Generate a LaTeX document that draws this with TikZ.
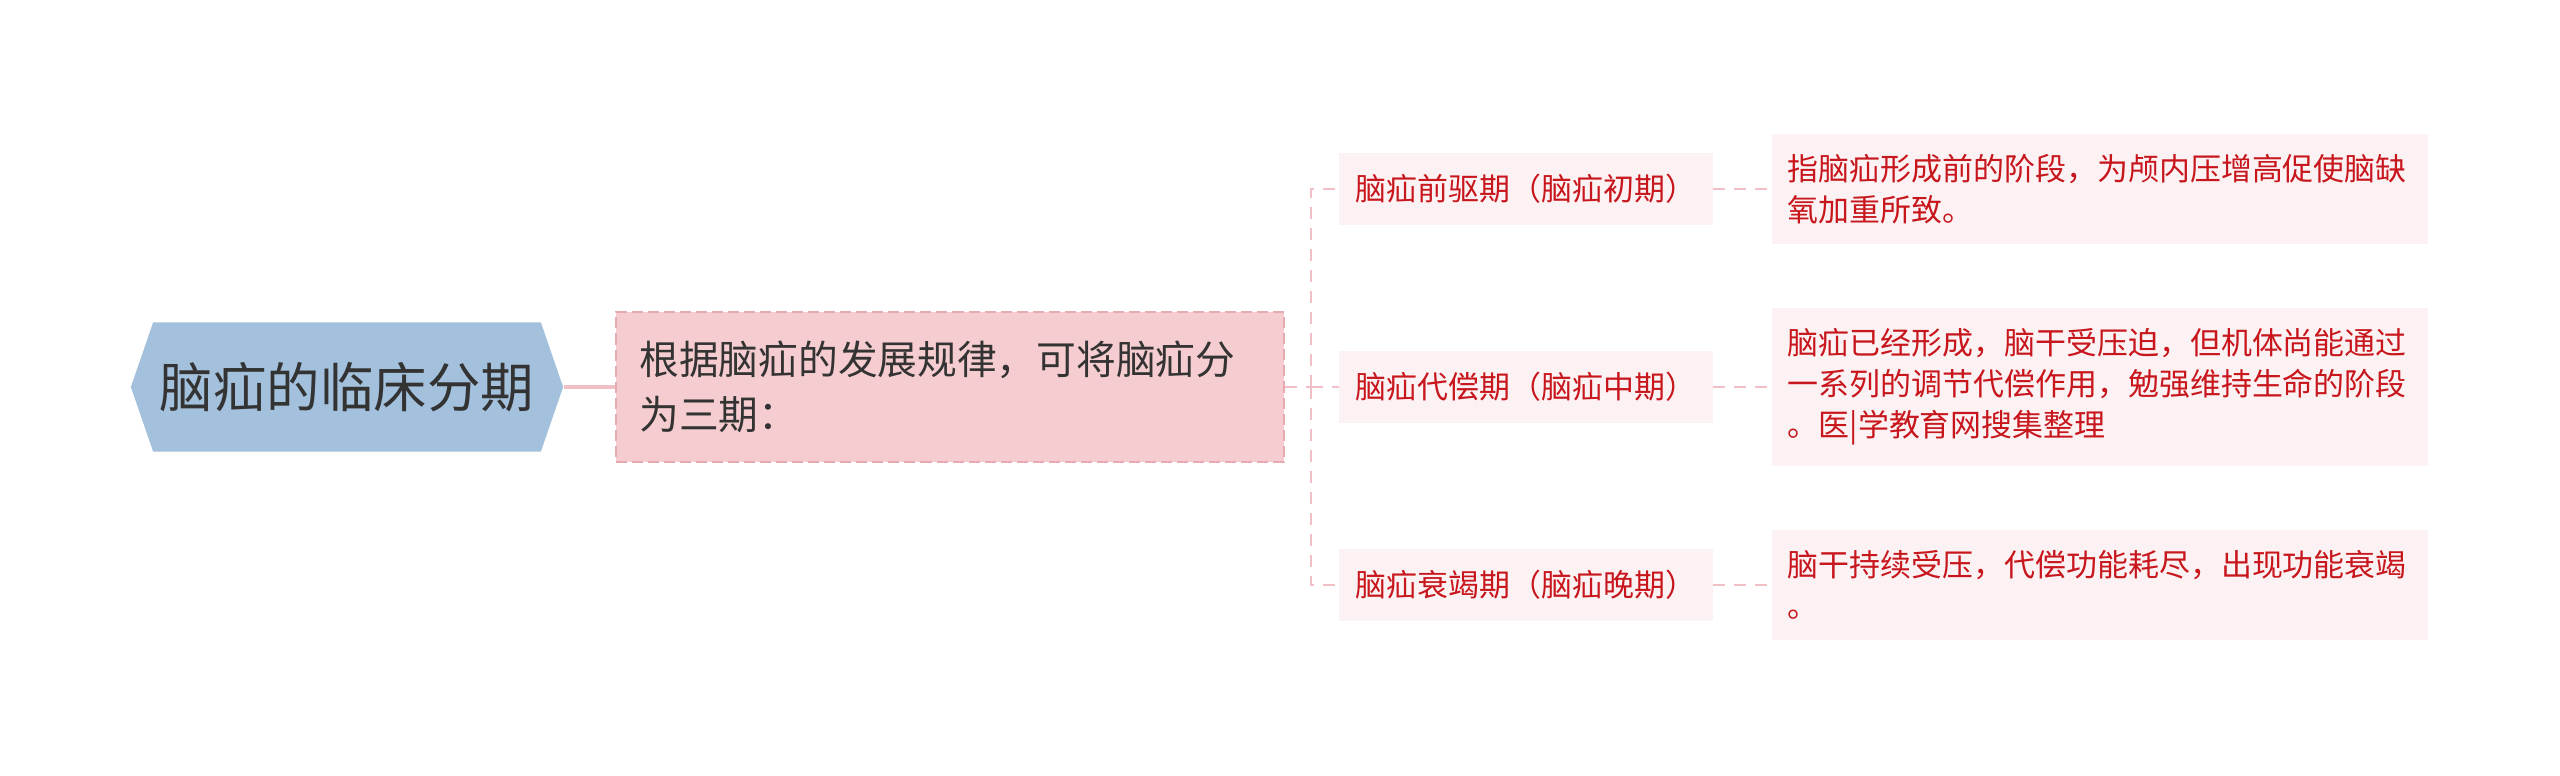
\documentclass[tikz,border=0pt]{standalone}
\usepackage{fontspec}
\setmainfont{Noto Sans CJK SC}
\usepackage{tikz}
\usetikzlibrary{shapes.symbols,positioning}
\definecolor{rootblue}{RGB}{163,193,220}
\definecolor{darktext}{RGB}{51,51,51}
\definecolor{introfill}{RGB}{245,204,207}
\definecolor{introedge}{RGB}{232,170,177}
\definecolor{leaffill}{RGB}{252,242,243}
\definecolor{leafred}{RGB}{200,22,29}
\definecolor{linkpink}{RGB}{240,192,198}
\tikzset{
  rootnode/.style={signal,signal to=west and east,signal pointer angle=142,
    fill=rootblue,draw=none,minimum width=4.32cm,minimum height=1.29cm,
    inner sep=0pt,font=\fontsize{15.2pt}{18pt}\selectfont,text=darktext},
  intronode/.style={fill=introfill,draw=introedge,line width=0.02cm,
    dash pattern=on 0.11cm off 0.05cm,text width=6.21cm,inner xsep=0.23cm,
    minimum height=1.49cm,align=left,
    font=\fontsize{11.3pt}{15.6pt}\selectfont,text=darktext},
  stagenode/.style={fill=leaffill,minimum width=3.73cm,minimum height=0.72cm,
    inner sep=0pt,font=\fontsize{8.8pt}{11pt}\selectfont,text=leafred},
  descnode/.style={fill=leaffill,text width=6.24cm,inner xsep=0.16cm,
    inner ysep=0.2cm,align=left,
    font=\fontsize{8.8pt}{11.7pt}\selectfont,text=leafred},
  solidlink/.style={draw=linkpink,line width=0.04cm},
  dashlink/.style={draw=linkpink,line width=0.022cm,
    dash pattern=on 0.12cm off 0.09cm},
}
\begin{document}
\begin{tikzpicture}[x=0.01cm,y=-0.01cm]
\useasboundingbox (0,0) rectangle (2560,775);
% root and summary
\node[rootnode] (root) at (347,387) {脑疝的临床分期};
\node[intronode] (intro) at (950,387)
  {根据脑疝的发展规律，可将脑疝分\\为三期：};
\draw[solidlink] (root.east)--(intro.west);
% three stages
\node[stagenode] (early) at (1526,189) {脑疝前驱期（脑疝初期）};
\node[stagenode] (mid)   at (1526,387) {脑疝代偿期（脑疝中期）};
\node[stagenode] (late)  at (1526,585) {脑疝衰竭期（脑疝晚期）};
\coordinate (fork) at (1311,387);
\draw[dashlink] (intro.east)--(fork);
\draw[dashlink] (fork) |- (early.west);
\draw[dashlink] (fork) |- (mid.west);
\draw[dashlink] (fork) |- (late.west);
% descriptions
\node[descnode] (earlydesc) at (2100,189)
  {指脑疝形成前的阶段，为颅内压增高促使脑缺\\氧加重所致。};
\node[descnode] (middesc) at (2100,387)
  {脑疝已经形成，脑干受压迫，但机体尚能通过\\一系列的调节代偿作用，勉强维持生命的阶段\\。医|学教育网搜集整理};
\node[descnode] (latedesc) at (2100,585)
  {脑干持续受压，代偿功能耗尽，出现功能衰竭\\。};
\draw[dashlink] (early.east)--(earlydesc.west);
\draw[dashlink] (mid.east)--(middesc.west);
\draw[dashlink] (late.east)--(latedesc.west);
\end{tikzpicture}
\end{document}
